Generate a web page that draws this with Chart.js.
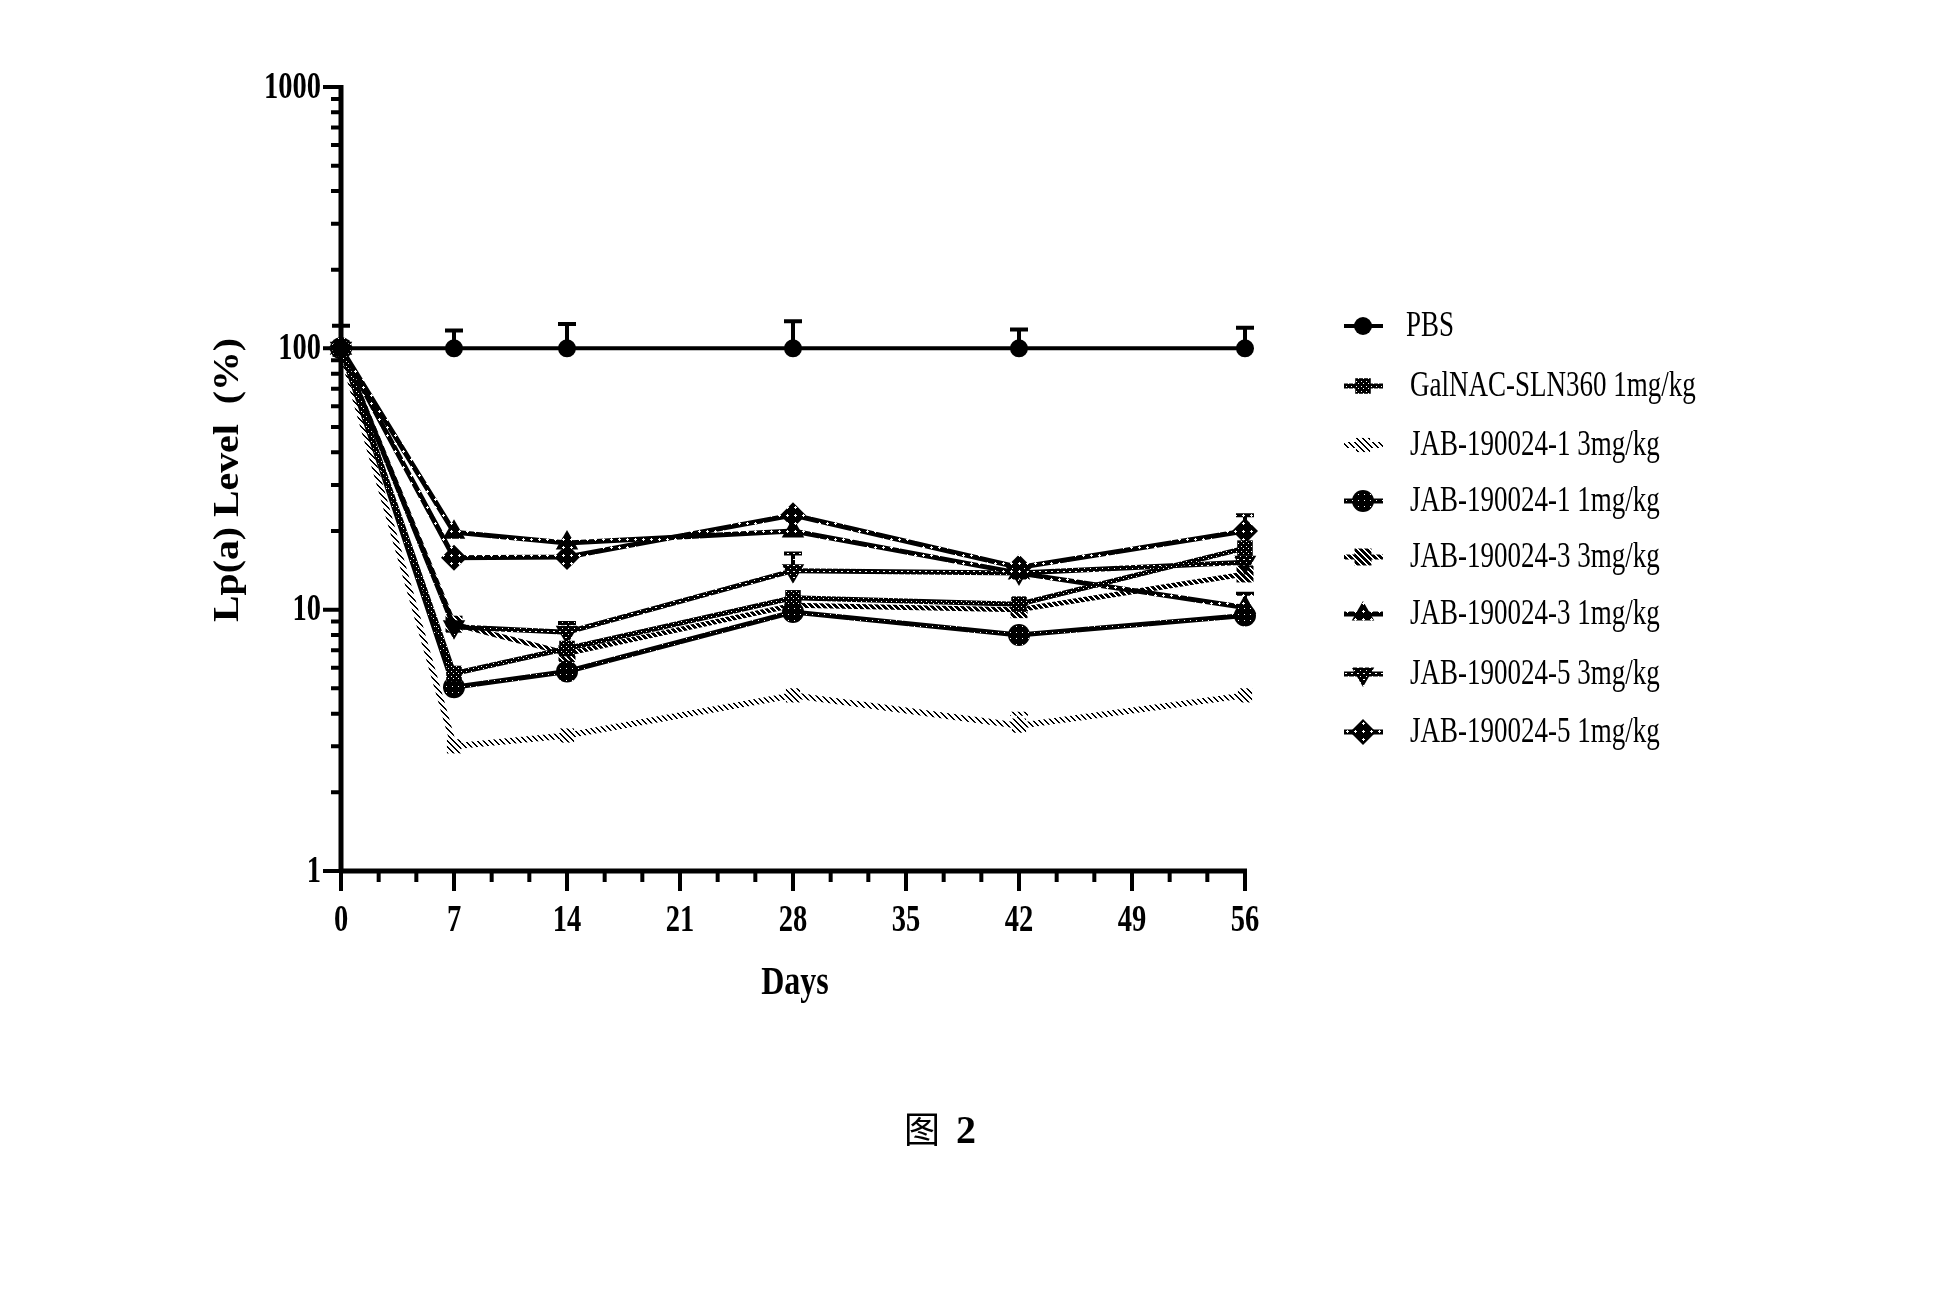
<!DOCTYPE html>
<html>
<head>
<meta charset="utf-8">
<title>Lp(a) Level</title>
<script src="https://cdn.jsdelivr.net/npm/chart.js"></script>
<style>
  body { margin: 0; background: #fff; }
  #c { display: block; }
</style>
</head>
<body>
<canvas id="c" width="1960" height="1308"></canvas>
<script>
// ---- data ----
const days = [0, 7, 14, 28, 42, 56];
const xTickLabels = [0, 7, 14, 21, 28, 35, 42, 49, 56];
const yTickLabels = [1, 10, 100, 1000];

const seriesNames = [
    'PBS',
    'GalNAC-SLN360 1mg/kg',
    'JAB-190024-1 3mg/kg',
    'JAB-190024-1 1mg/kg',
    'JAB-190024-3 3mg/kg',
    'JAB-190024-3 1mg/kg',
    'JAB-190024-5 3mg/kg',
    'JAB-190024-5 1mg/kg'
];
const pbs       = [100, 100, 100, 100, 100, 100];
const galnac    = [100, 5.7, 7.1, 11.1, 10.5, 17.2];
const jab1High  = [100, 3.0, 3.3, 4.7, 3.6, 4.7];
const jab1Low   = [100, 5.05, 5.8, 9.8, 8.0, 9.5];
const jab3High  = [100, 8.8, 6.8, 10.4, 10.0, 13.7];
const jab3Low   = [100, 19.8, 18.0, 20.0, 13.8, 10.2];
const jab5High  = [100, 8.6, 8.2, 14.1, 13.8, 15.2];
const jab5Low   = [100, 15.8, 15.9, 23.0, 14.5, 20.0];

// upper ends of the error bars (null = none visible)
const pbsErr      = [122, 117, 124, 127, 118, 120];
const galnacErr   = [null, null, null, null, null, null];
const jab1HighErr = [null, null, null, null, 4.0, null];
const jab1LowErr  = [null, null, null, null, null, null];
const jab3HighErr = [null, null, null, null, null, null];
const jab3LowErr  = [null, null, null, null, null, 11.5];
const jab5HighErr = [null, null, 8.9, 16.4, null, null];
const jab5LowErr  = [null, null, null, null, null, 23.0];

const canvas = document.getElementById('c');
const ctx = canvas.getContext('2d');

// small bitmap fills that mimic the scanned hatching
function tile(size, paint) {
    const t = document.createElement('canvas');
    t.width = t.height = size;
    paint(t.getContext('2d'), size);
    return ctx.createPattern(t, 'repeat');
}
const pat = {
    plus: tile(8, (g) => {
        g.fillStyle = '#000'; g.fillRect(0, 0, 8, 8);
        g.fillStyle = '#fff'; g.fillRect(3, 2, 1, 3); g.fillRect(2, 3, 3, 1);
    }),
    dots: tile(6, (g) => {
        g.fillStyle = '#000'; g.fillRect(0, 0, 6, 6);
        g.fillStyle = '#fff'; g.fillRect(2, 2, 1, 1);
    }),
    grid: tile(5, (g) => {
        g.fillStyle = '#000'; g.fillRect(0, 0, 5, 5);
        g.fillStyle = '#fff'; g.fillRect(1, 1, 1, 1); g.fillRect(3, 3, 1, 1);
    }),
    wave: tile(6, (g) => {
        g.fillStyle = '#000'; g.fillRect(0, 0, 6, 6);
        g.fillStyle = '#fff'; g.fillRect(1, 1, 2, 1); g.fillRect(4, 4, 1, 1);
    }),
    hatch: tile(6, (g) => {
        g.fillStyle = '#000';
        for (let y = 0; y < 6; y++) for (let k = 0; k < 4; k++) g.fillRect((y + k) % 6, y, 1, 1);
    }),
    light: tile(6, (g) => {
        g.fillStyle = '#000';
        for (let y = 0; y < 6; y++) { g.fillRect(y % 6, y, 1, 1); g.fillRect((y + 1) % 6, y, 1, 1); }
    })
};

const seriesValues = [pbs, galnac, jab1High, jab1Low, jab3High, jab3Low, jab5High, jab5Low];
const seriesErr = [pbsErr, galnacErr, jab1HighErr, jab1LowErr, jab3HighErr, jab3LowErr, jab5HighErr, jab5LowErr];
const looks = [
    { color: '#000',      point: 'circle',   rot: 0,   r: 9,  w: 4 },
    { color: pat.grid,    point: 'rect',     rot: 0,   r: 11, w: 5 },
    { color: pat.light,   point: 'rect',     rot: 0,   r: 10, w: 6 },
    { color: pat.dots,    point: 'circle',   rot: 0,   r: 11, w: 5 },
    { color: pat.hatch,   point: 'rect',     rot: 0,   r: 12, w: 5 },
    { color: pat.plus,    point: 'triangle', rot: 0,   r: 13, w: 5 },
    { color: pat.wave,    point: 'triangle', rot: 180, r: 13, w: 5 },
    { color: pat.plus,    point: 'rectRot',  rot: 0,   r: 13, w: 5 }
];

const LEFT = 341, TOP = 87, RIGHT = 1245, BOTTOM = 871;

function squeezeText(c, str, x, y, font, align, sx) {
    c.save();
    c.font = font;
    c.textAlign = align;
    c.translate(x, y);
    c.scale(sx, 1);
    c.fillText(str, 0, 0);
    c.restore();
}

const axesPlugin = {
    id: 'axes',
    beforeDatasetsDraw(chart) {
        const c = chart.ctx, xs = chart.scales.x, ys = chart.scales.y;
        c.save();
        c.strokeStyle = '#000';
        c.fillStyle = '#000';
        c.lineCap = 'butt';
        // axis lines
        c.lineWidth = 5;
        c.beginPath();
        c.moveTo(LEFT, TOP - 2); c.lineTo(LEFT, BOTTOM + 2);
        c.moveTo(LEFT - 2, BOTTOM); c.lineTo(RIGHT + 2, BOTTOM);
        c.stroke();
        // y ticks (log, major + minor)
        c.lineWidth = 4;
        c.beginPath();
        yTickLabels.forEach((v) => {
            const y = ys.getPixelForValue(v);
            c.moveTo(LEFT, y); c.lineTo(LEFT - 18, y);
        });
        for (let dec = 1; dec < 1000; dec *= 10) {
            for (let m = 2; m <= 9; m++) {
                const y = ys.getPixelForValue(m * dec);
                c.moveTo(LEFT, y); c.lineTo(LEFT - 10, y);
            }
        }
        // x ticks
        xTickLabels.forEach((v, i) => {
            const x = xs.getPixelForValue(v);
            c.moveTo(x, BOTTOM); c.lineTo(x, BOTTOM + 20);
            if (i < xTickLabels.length - 1) {
                const step = (xTickLabels[i + 1] - v) / 3;
                for (let k = 1; k < 3; k++) {
                    const xm = xs.getPixelForValue(v + k * step);
                    c.moveTo(xm, BOTTOM); c.lineTo(xm, BOTTOM + 11);
                }
            }
        });
        c.stroke();
        // tick labels
        c.textBaseline = 'middle';
        yTickLabels.forEach((v) => {
            squeezeText(c, String(v), LEFT - 20, ys.getPixelForValue(v) + 1, 'bold 38px "Liberation Serif"', 'right', 0.75);
        });
        c.textBaseline = 'alphabetic';
        xTickLabels.forEach((v) => {
            squeezeText(c, String(v), xs.getPixelForValue(v), 931, 'bold 38px "Liberation Serif"', 'center', 0.75);
        });
        c.restore();
    }
};

const errorPlugin = {
    id: 'errorBars',
    beforeDatasetsDraw(chart) {
        const c = chart.ctx, ys = chart.scales.y;
        chart.data.datasets.forEach((ds, di) => {
            const meta = chart.getDatasetMeta(di);
            c.save();
            c.strokeStyle = ds.borderColor;
            c.lineWidth = 4;
            ds.errUp.forEach((e, i) => {
                if (e == null) return;
                const pt = meta.data[i];
                const y1 = ys.getPixelForValue(e);
                c.beginPath();
                c.moveTo(pt.x, pt.y); c.lineTo(pt.x, y1);
                c.moveTo(pt.x - 9, y1); c.lineTo(pt.x + 9, y1);
                c.stroke();
            });
            c.restore();
        });
    }
};

function marker(c, look, x, y) {
    const h = Chart.helpers;
    c.fillStyle = look.color;
    c.strokeStyle = look.color;
    if (h && h.drawPoint) {
        h.drawPoint(c, { pointStyle: look.point, rotation: look.rot, radius: look.r, borderWidth: 0 }, x, y);
    } else {
        c.beginPath(); c.arc(x, y, look.r, 0, Math.PI * 2); c.fill();
    }
}

const legendRows = [326, 386, 445, 501, 557, 614, 674, 732];
const textPlugin = {
    id: 'texts',
    afterDraw(chart) {
        const c = chart.ctx;
        c.save();
        c.fillStyle = '#000';
        // legend
        seriesNames.forEach((name, i) => {
            const y = legendRows[i], look = looks[i];
            c.strokeStyle = look.color;
            c.lineWidth = look.w;
            c.beginPath(); c.moveTo(1344, y); c.lineTo(1383, y); c.stroke();
            marker(c, look, 1363, y);
            c.fillStyle = '#000';
            c.textBaseline = 'middle';
            squeezeText(c, name, i === 0 ? 1406 : 1410, y + 1, '36px "Liberation Serif"', 'left', 0.75);
        });
        // axis titles
        c.textBaseline = 'middle';
        squeezeText(c, 'Days', 795, 984, 'bold 40px "Liberation Serif"', 'center', 0.8);
        c.save();
        c.translate(229, 480);
        c.rotate(-Math.PI / 2);
        c.font = 'bold 36px "Liberation Serif", "Noto Sans CJK SC"';
        const title = 'Lp(a) Level\u00a0\u00a0(%)';
        const sx = 284 / c.measureText(title).width;
        squeezeText(c, title, 0, 0, c.font, 'center', sx);
        c.restore();
        // figure caption
        c.textBaseline = 'alphabetic';
        c.font = '36px "Noto Sans CJK SC"';
        c.textAlign = 'left';
        c.fillText('图', 904, 1143);
        c.font = 'bold 40px "Liberation Serif"';
        c.fillText('2', 956, 1143);
        c.restore();
    }
};

new Chart(ctx, {
    type: 'line',
    data: {
        datasets: seriesNames.map((name, i) => ({
            label: name,
            data: days.map((d, k) => ({ x: d, y: seriesValues[i][k] })),
            errUp: seriesErr[i],
            borderColor: looks[i].color,
            backgroundColor: looks[i].color,
            borderWidth: looks[i].w,
            pointStyle: looks[i].point,
            rotation: looks[i].rot,
            pointRadius: looks[i].r,
            pointBorderWidth: 0,
            pointBackgroundColor: looks[i].color,
            tension: 0,
            clip: false
        }))
    },
    options: {
        responsive: false,
        devicePixelRatio: 1,
        animation: false,
        events: [],
        layout: { padding: { left: LEFT, top: TOP, right: 1960 - RIGHT, bottom: 1308 - BOTTOM } },
        plugins: { legend: { display: false }, tooltip: { enabled: false } },
        scales: {
            x: { type: 'linear', min: 0, max: 56, display: false },
            y: { type: 'logarithmic', min: 1, max: 1000, display: false }
        }
    },
    plugins: [axesPlugin, errorPlugin, textPlugin]
});
</script>
</body>
</html>
